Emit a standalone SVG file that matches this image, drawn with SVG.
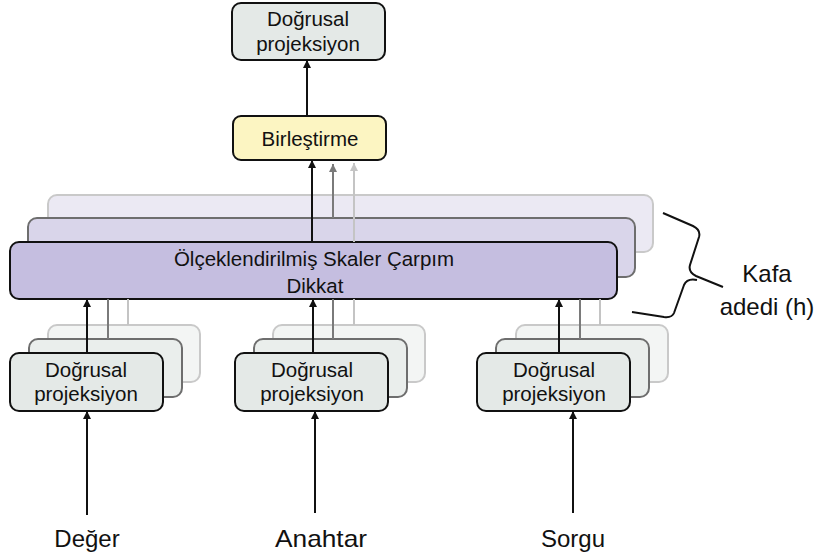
<svg xmlns="http://www.w3.org/2000/svg" width="820" height="559" viewBox="0 0 820 559">
  <style>
    text { font-family: "Liberation Sans", Arial, sans-serif; fill: #111; text-anchor: middle; }
    .lbl { font-size: 20.5px; }
    .big { font-size: 24px; }
    .proj { fill: #e4e9e7; stroke: #111; stroke-width: 2; }
    .proj2 { fill: #eaeeec; stroke: #6e6e6e; stroke-width: 2; }
    .proj3 { fill: #f3f5f4; stroke: #c9c9c9; stroke-width: 2; }
    .att { fill: #c5bee0; stroke: #111; stroke-width: 2; }
    .att2 { fill: #d9d5ea; stroke: #6e6e6e; stroke-width: 2; }
    .att3 { fill: #ebe9f3; stroke: #c9c9c9; stroke-width: 2; }
    .cat { fill: #fcf5c2; stroke: #111; stroke-width: 2; }
    .ln { fill: none; stroke: #111; stroke-width: 2; }
    .ln2 { fill: none; stroke: #7a7a7a; stroke-width: 2; }
    .ln3 { fill: none; stroke: #c4c4c4; stroke-width: 2; }
  </style>
  <defs>
    <marker id="ah" viewBox="0 0 10 10" refX="10" refY="5" markerWidth="8" markerHeight="8" markerUnits="userSpaceOnUse" orient="auto">
      <path d="M0,0 L10,5 L0,10 z" fill="#111"/>
    </marker>
    <marker id="ah2" viewBox="0 0 10 10" refX="10" refY="5" markerWidth="8" markerHeight="8" markerUnits="userSpaceOnUse" orient="auto">
      <path d="M0,0 L10,5 L0,10 z" fill="#7a7a7a"/>
    </marker>
    <marker id="ah3" viewBox="0 0 10 10" refX="10" refY="5" markerWidth="8" markerHeight="8" markerUnits="userSpaceOnUse" orient="auto">
      <path d="M0,0 L10,5 L0,10 z" fill="#c4c4c4"/>
    </marker>
  </defs>

  <rect width="820" height="559" fill="#ffffff"/>

  <!-- output projection -->
  <g id="out-proj">
    <rect class="proj" x="232" y="3" width="153" height="57" rx="9"/>
    <text class="lbl" x="308" y="26">Doğrusal</text>
    <text class="lbl" x="308" y="51">projeksiyon</text>
  </g>

  <!-- concatenation -->
  <g id="concat">
    <rect class="cat" x="233" y="116" width="153" height="44" rx="8"/>
    <text class="lbl" x="310" y="146">Birleştirme</text>
  </g>

  <!-- stacked attention heads -->
  <g id="attention">
    <rect class="att3" x="48" y="195" width="605" height="57" rx="9"/>
    <rect class="att2" x="28" y="218" width="607" height="59" rx="9"/>
    <rect class="att" x="10" y="242" width="607" height="57" rx="9"/>
    <text class="lbl" x="314" y="266">Ölçeklendirilmiş Skaler Çarpım</text>
    <text class="lbl" x="315" y="293">Dikkat</text>
  </g>

  <!-- value projections -->
  <g id="proj-v">
    <rect class="proj3" x="48" y="325" width="152" height="57" rx="9"/>
    <rect class="proj2" x="29" y="339" width="153" height="58" rx="9"/>
    <rect class="proj" x="10" y="353" width="153" height="58" rx="9"/>
    <text class="lbl" x="86" y="377">Doğrusal</text>
    <text class="lbl" x="86" y="401">projeksiyon</text>
  </g>

  <!-- key projections -->
  <g id="proj-k">
    <rect class="proj3" x="273" y="325" width="152" height="57" rx="9"/>
    <rect class="proj2" x="254" y="339" width="153" height="58" rx="9"/>
    <rect class="proj" x="235" y="353" width="153" height="58" rx="9"/>
    <text class="lbl" x="312" y="377">Doğrusal</text>
    <text class="lbl" x="312" y="401">projeksiyon</text>
  </g>

  <!-- query projections -->
  <g id="proj-q">
    <rect class="proj3" x="516" y="325" width="152" height="57" rx="9"/>
    <rect class="proj2" x="496" y="339" width="153" height="58" rx="9"/>
    <rect class="proj" x="477" y="353" width="153" height="58" rx="9"/>
    <text class="lbl" x="554" y="377">Doğrusal</text>
    <text class="lbl" x="554" y="401">projeksiyon</text>
  </g>

  <!-- input labels -->
  <g id="in-v"><text class="big" x="87" y="547">Değer</text></g>
  <g id="in-k"><text class="big" x="321" y="547" textLength="92" lengthAdjust="spacingAndGlyphs">Anahtar</text></g>
  <g id="in-q"><text class="big" x="573" y="547">Sorgu</text></g>

  <!-- head count brace and label -->
  <g id="heads">
    <path class="ln" stroke-width="1.6" d="M663,213 L693,226 Q701,230 699,237 L690,265 Q688,272 696,276 L723,287 M697,280 Q687,278 684,285 L674,313 Q672,318 664,317 L632,312"/>
    <text class="big" x="767" y="282">Kafa</text>
    <text class="big" x="767" y="315">adedi (h)</text>
  </g>

  <g id="connectors">
    <!-- inputs into projections -->
    <line class="ln" x1="87" y1="515" x2="87" y2="411" marker-end="url(#ah)"/>
    <line class="ln" x1="315" y1="513" x2="315" y2="411" marker-end="url(#ah)"/>
    <line class="ln" x1="573" y1="513" x2="573" y2="411" marker-end="url(#ah)"/>

    <!-- projections into attention -->
    <line class="ln3" x1="128" y1="325" x2="128" y2="299"/>
    <line class="ln2" x1="108" y1="339" x2="108" y2="299"/>
    <line class="ln" x1="87" y1="353" x2="87" y2="299" marker-end="url(#ah)"/>

    <line class="ln3" x1="354" y1="325" x2="354" y2="299"/>
    <line class="ln2" x1="333" y1="339" x2="333" y2="299"/>
    <line class="ln" x1="313" y1="353" x2="313" y2="299" marker-end="url(#ah)"/>

    <line class="ln3" x1="600" y1="325" x2="600" y2="299"/>
    <line class="ln2" x1="580" y1="339" x2="580" y2="299"/>
    <line class="ln" x1="559" y1="353" x2="559" y2="299" marker-end="url(#ah)"/>

    <!-- heads into concatenation -->
    <line class="ln3" x1="354" y1="242" x2="354" y2="163" marker-end="url(#ah3)"/>
    <line class="ln2" x1="333" y1="218" x2="333" y2="164" marker-end="url(#ah2)"/>
    <line class="ln" x1="312" y1="242" x2="312" y2="160" marker-end="url(#ah)"/>

    <!-- concatenation into output projection -->
    <line class="ln" x1="307" y1="116" x2="307" y2="60" marker-end="url(#ah)"/>
  </g>
</svg>
